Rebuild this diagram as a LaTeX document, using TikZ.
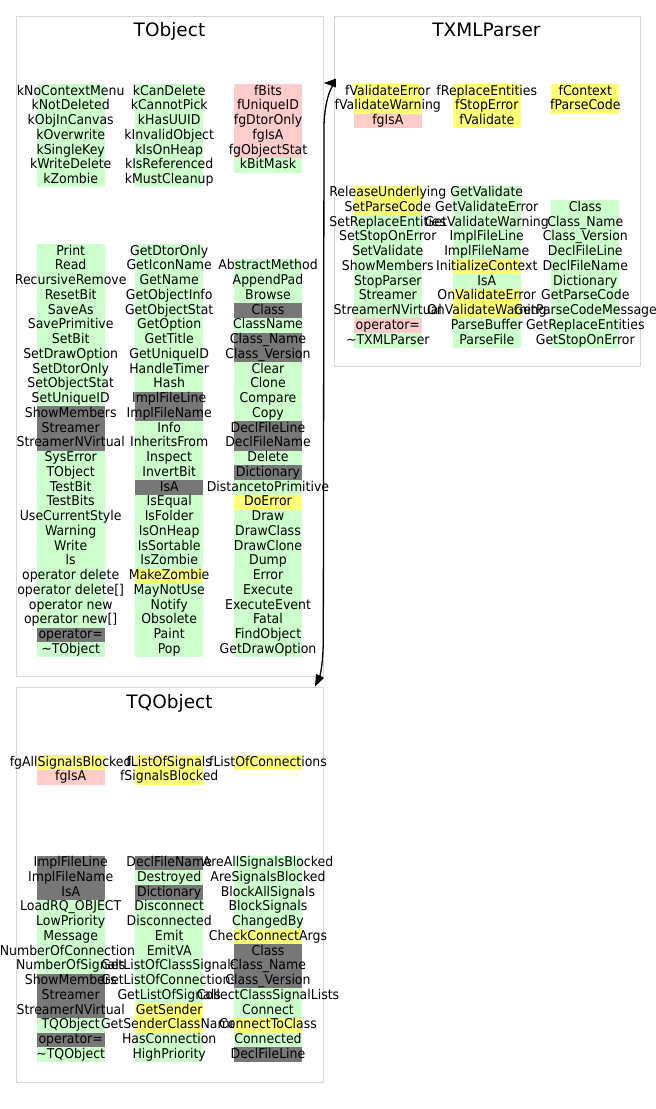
\documentclass[tikz,border=0pt]{standalone}
\usepackage{fontspec}
\setmainfont{DejaVu Sans}
\newfontfamily\bodyfont{DejaVu Sans}[FakeStretch=0.926]
\usetikzlibrary{arrows.meta}

% member colours: green = public, pink = private, yellow = protected, grey = inherited/generated
\definecolor{memg}{RGB}{204,255,204}
\definecolor{memp}{RGB}{255,204,204}
\definecolor{memy}{RGB}{255,255,119}
\definecolor{memk}{RGB}{119,119,119}
\definecolor{boxline}{RGB}{214,214,214}

\newcommand\rowh{14.75}
% one column of members: #1 name prefix, #2 centre x, #3 top y, #4 list colour/text
\newcommand\memcol[4]{%
  \foreach \c/\t [count=\i from 0] in {#4} {
    \fill[fill=mem\c] (#2-34, #3+\i*\rowh) rectangle (#2+34, #3+\i*\rowh+\rowh);
    \node[member, name=#1-\i] at (#2, #3+11+\i*\rowh) {\t};
  }%
}

\tikzset{
  member/.style={font=\bodyfont\fontsize{13.5}{15}\selectfont, inner sep=0pt, anchor=base},
  classbox/.style={draw=boxline, line width=1.4pt, fill=white, anchor=north west, inner sep=0pt},
  classtitle/.style={font=\fontsize{18.5}{21}\selectfont, inner sep=0pt, anchor=base},
  inherit/.style={draw=black, line width=1.3pt, {Triangle[length=12pt,width=8.5pt]}-{Triangle[length=12pt,width=8.5pt]}}
}

\begin{document}
\begin{tikzpicture}[x=1pt, y=-1pt]
\useasboundingbox (0,0) rectangle (656,1109);

% class frames
\node[classbox, minimum width=306.5pt, minimum height=659.5pt] (TObject) at (16,16) {};
\node[classbox, minimum width=306pt, minimum height=350pt] (TXMLParser) at (333.5,16) {};
\node[classbox, minimum width=306.5pt, minimum height=395pt] (TQObject) at (16,686.7) {};

% titles
\node[classtitle] (TObject-title) at (169.5,36.7) {TObject};
\node[classtitle] (TXMLParser-title) at (486.5,36.7) {TXMLParser};
\node[classtitle] (TQObject-title) at (169.5,708.3) {TQObject};

% ---------------- TObject ----------------
\memcol{TObject-d1}{70.7}{84}{g/kNoContextMenu, g/kNotDeleted, g/kObjInCanvas, g/kOverwrite, g/kSingleKey, g/kWriteDelete, g/kZombie}
\memcol{TObject-d2}{169.2}{84}{g/kCanDelete, g/kCannotPick, g/kHasUUID, g/kInvalidObject, g/kIsOnHeap, g/kIsReferenced, g/kMustCleanup}
\memcol{TObject-d3}{268}{84}{p/fBits, p/fUniqueID, p/fgDtorOnly, p/fgIsA, p/fgObjectStat, g/kBitMask}

\memcol{TObject-m1}{70.7}{244}{g/Print, g/Read, g/RecursiveRemove, g/ResetBit, g/SaveAs, g/SavePrimitive, g/SetBit, g/SetDrawOption, g/SetDtorOnly, g/SetObjectStat, g/SetUniqueID, k/ShowMembers, k/Streamer, k/StreamerNVirtual, g/SysError, g/TObject, g/TestBit, g/TestBits, g/UseCurrentStyle, g/Warning, g/Write, g/ls, g/operator delete, g/operator delete[], g/operator new, g/operator new[], k/operator=, g/\textasciitilde TObject}
\memcol{TObject-m2}{169.2}{244}{g/GetDtorOnly, g/GetIconName, g/GetName, g/GetObjectInfo, g/GetObjectStat, g/GetOption, g/GetTitle, g/GetUniqueID, g/HandleTimer, g/Hash, k/ImplFileLine, k/ImplFileName, g/Info, g/InheritsFrom, g/Inspect, g/InvertBit, k/IsA, g/IsEqual, g/IsFolder, g/IsOnHeap, g/IsSortable, g/IsZombie, y/MakeZombie, g/MayNotUse, g/Notify, g/Obsolete, g/Paint, g/Pop}
\memcol{TObject-m3}{268}{258.75}{g/AbstractMethod, g/AppendPad, g/Browse, k/Class, g/ClassName, k/Class\_Name, k/Class\_Version, g/Clear, g/Clone, g/Compare, g/Copy, k/DeclFileLine, k/DeclFileName, g/Delete, k/Dictionary, g/DistancetoPrimitive, y/DoError, g/Draw, g/DrawClass, g/DrawClone, g/Dump, g/Error, g/Execute, g/ExecuteEvent, g/Fatal, g/FindObject, g/GetDrawOption}

% ---------------- TXMLParser ----------------
\memcol{TXMLParser-d1}{387.8}{84}{y/fValidateError, y/fValidateWarning, p/fgIsA}
\memcol{TXMLParser-d2}{486.8}{84}{y/fReplaceEntities, y/fStopError, y/fValidate}
\memcol{TXMLParser-d3}{585.3}{84}{y/fContext, y/fParseCode}

\memcol{TXMLParser-m1}{387.8}{185.5}{y/ReleaseUnderlying, y/SetParseCode, g/SetReplaceEntities, g/SetStopOnError, g/SetValidate, g/ShowMembers, g/StopParser, g/Streamer, g/StreamerNVirtual, p/operator=, g/\textasciitilde TXMLParser}
\memcol{TXMLParser-m2}{486.8}{185.5}{g/GetValidate, g/GetValidateError, g/GetValidateWarning, g/ImplFileLine, g/ImplFileName, y/InitializeContext, g/IsA, y/OnValidateError, y/OnValidateWarning, g/ParseBuffer, g/ParseFile}
\memcol{TXMLParser-m3}{585.3}{200.25}{g/Class, g/Class\_Name, g/Class\_Version, g/DeclFileLine, g/DeclFileName, g/Dictionary, g/GetParseCode, g/GetParseCodeMessage, g/GetReplaceEntities, g/GetStopOnError}

% ---------------- TQObject ----------------
\memcol{TQObject-d1}{70.7}{755}{y/fgAllSignalsBlocked, p/fgIsA}
\memcol{TQObject-d2}{169.2}{755}{y/fListOfSignals, y/fSignalsBlocked}
\memcol{TQObject-d3}{268}{755}{y/fListOfConnections}

\memcol{TQObject-m1}{70.7}{855.7}{k/ImplFileLine, k/ImplFileName, k/IsA, g/LoadRQ\_OBJECT, g/LowPriority, g/Message, g/NumberOfConnections, g/NumberOfSignals, k/ShowMembers, k/Streamer, k/StreamerNVirtual, g/TQObject, k/operator=, g/\textasciitilde TQObject}
\memcol{TQObject-m2}{169.2}{855.7}{k/DeclFileName, g/Destroyed, k/Dictionary, g/Disconnect, g/Disconnected, g/Emit, g/EmitVA, g/GetListOfClassSignals, g/GetListOfConnections, g/GetListOfSignals, y/GetSender, y/GetSenderClassName, g/HasConnection, g/HighPriority}
\memcol{TQObject-m3}{268}{855.7}{g/AreAllSignalsBlocked, g/AreSignalsBlocked, g/BlockAllSignals, g/BlockSignals, g/ChangedBy, y/CheckConnectArgs, k/Class, k/Class\_Name, k/Class\_Version, g/CollectClassSignalLists, g/Connect, y/ConnectToClass, g/Connected, k/DeclFileLine}

% inheritance connector between the base classes
\coordinate (toTObject) at ([yshift=-67pt]TObject.north east);
\coordinate (toTQObject) at ([xshift=-9pt]TQObject.north east);
\draw[inherit] (toTObject) .. controls (333,83) and (325,96) .. (324,125)
  -- (323.3,640) .. controls (323,665) and (320,676) .. (toTQObject);
\end{tikzpicture}
\end{document}
